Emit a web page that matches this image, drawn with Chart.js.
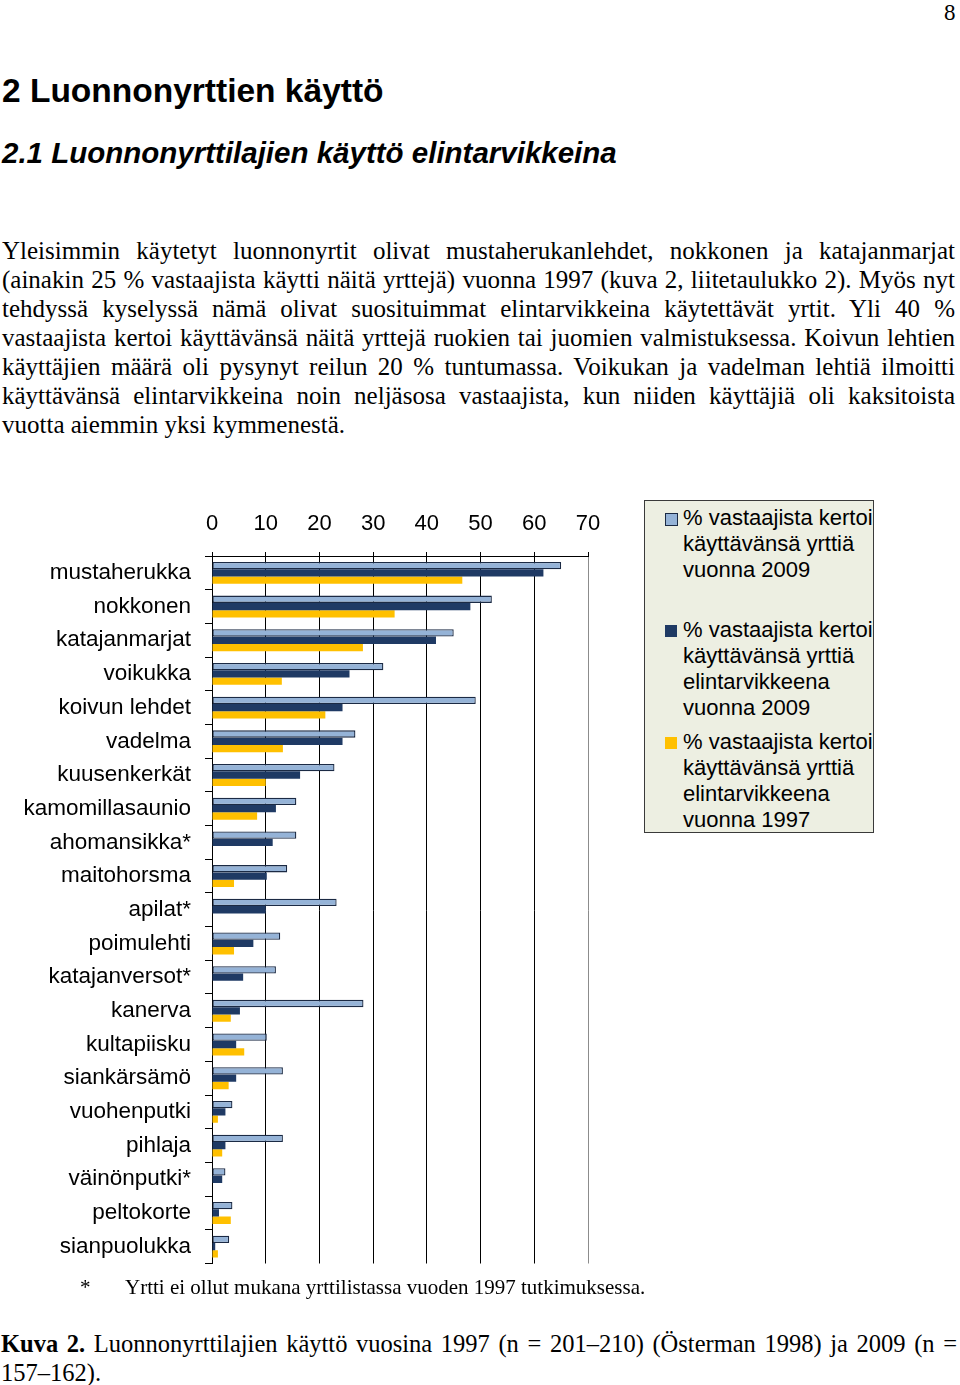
<!DOCTYPE html>
<html lang="fi">
<head>
<meta charset="utf-8">
<script src="https://cdn.jsdelivr.net/npm/chart.js@4/dist/chart.umd.min.js"></script>
<style>
  html, body { margin:0; padding:0; background:#fff; }
  body { width:960px; height:1385px; position:relative; overflow:hidden; color:#000; }
  .serif { font-family:"Liberation Serif","Times New Roman",serif; }
  .sans { font-family:"Liberation Sans",Arial,sans-serif; }
  .abs { position:absolute; }
  .pline { position:absolute; left:2px; width:953px; font-size:25px; line-height:29px; text-align:justify; text-align-last:justify; }
  .pline.last { text-align-last:left; }
  #legend { position:absolute; left:644px; top:500px; width:228px; height:331px; background:#EDEFE2; border:1.5px solid #3a3a3a; }
  .litem { position:absolute; left:38px; font-size:22px; line-height:26px; white-space:nowrap; font-family:"Liberation Sans",Arial,sans-serif; }
  .lmark { position:absolute; left:20px; width:12px; height:12px; }
</style>
</head>
<body>
<script>
// ---- data ----
const categories = ["mustaherukka","nokkonen","katajanmarjat","voikukka","koivun lehdet","vadelma","kuusenkerkät","kamomillasaunio","ahomansikka*","maitohorsma","apilat*","poimulehti","katajanversot*","kanerva","kultapiisku","siankärsämö","vuohenputki","pihlaja","väinönputki*","peltokorte","sianpuolukka"];
const used2009 = [65.0, 52.1, 45.0, 31.9, 49.1, 26.7, 22.8, 15.7, 15.7, 14.0, 23.2, 12.7, 11.9, 28.2, 10.2, 13.2, 3.8, 13.2, 2.5, 3.8, 3.2];
const food2009 = [61.7, 48.1, 41.7, 25.6, 24.3, 24.3, 16.4, 11.9, 11.3, 10.2, 10.0, 7.7, 5.8, 5.2, 4.5, 4.5, 2.5, 2.5, 1.9, 1.3, 0.6];
const food1997 = [46.6, 34.0, 28.1, 13.0, 21.1, 13.2, 10.0, 8.4, null, 4.1, null, 4.1, null, 3.5, 6.0, 3.1, 1.1, 1.9, null, 3.5, 1.1];
const seriesLabels = [
  ["% vastaajista kertoi","käyttävänsä yrttiä","vuonna 2009"],
  ["% vastaajista kertoi","käyttävänsä yrttiä","elintarvikkeena","vuonna 2009"],
  ["% vastaajista kertoi","käyttävänsä yrttiä","elintarvikkeena","vuonna 1997"]
];
const xTickLabels = ["0","10","20","30","40","50","60","70"];
</script>

<div class="abs serif" style="left:944px; top:0px; font-size:23px; line-height:26px;">8</div>
<div class="abs sans" style="left:2px; top:71px; font-size:33.5px; line-height:40px; font-weight:bold;">2 Luonnonyrttien käyttö</div>
<div class="abs sans" style="left:2px; top:134px; font-size:29.5px; line-height:38px; font-weight:bold; font-style:italic;">2.1 Luonnonyrttilajien käyttö elintarvikkeina</div>

<div class="serif">
<div class="pline" style="top:236px;">Yleisimmin käytetyt luonnonyrtit olivat mustaherukanlehdet, nokkonen ja katajanmarjat</div>
<div class="pline" style="top:265px;">(ainakin 25 % vastaajista käytti näitä yrttejä) vuonna 1997 (kuva 2, liitetaulukko 2). Myös nyt</div>
<div class="pline" style="top:294px;">tehdyssä kyselyssä nämä olivat suosituimmat elintarvikkeina käytettävät yrtit. Yli 40 %</div>
<div class="pline" style="top:323px;">vastaajista kertoi käyttävänsä näitä yrttejä ruokien tai juomien valmistuksessa. Koivun lehtien</div>
<div class="pline" style="top:352px;">käyttäjien määrä oli pysynyt reilun 20 % tuntumassa. Voikukan ja vadelman lehtiä ilmoitti</div>
<div class="pline" style="top:381px;">käyttävänsä elintarvikkeina noin neljäsosa vastaajista, kun niiden käyttäjiä oli kaksitoista</div>
<div class="pline last" style="top:410px;">vuotta aiemmin yksi kymmenestä.</div>
</div>

<canvas id="c" width="640" height="796" style="position:absolute; left:0; top:495px; width:640px; height:796px;"></canvas>

<div id="legend"></div>

<div class="abs serif" style="left:80px; top:1274px; font-size:21px; line-height:26px;">*</div>
<div class="abs serif" style="left:125px; top:1274px; font-size:21px; line-height:26px;">Yrtti ei ollut mukana yrttilistassa vuoden 1997 tutkimuksessa.</div>

<div class="serif">
<div class="pline" style="top:1329px; left:1px; width:956px; font-size:24.5px;"><b>Kuva 2.</b> Luonnonyrttilajien käyttö vuosina 1997 (n = 201–210) (Österman 1998) ja 2009 (n =</div>
<div class="pline last" style="top:1358px; left:1px; width:956px; font-size:24.5px;">157–162).</div>
</div>

<script>
const colors = ["#95B3D7", "#1F3A64", "#FFC000"];
const legendEl = document.getElementById('legend');
const itemTops = [4, 116, 228];
seriesLabels.forEach((lines, i) => {
  const it = document.createElement('div');
  it.className = 'litem';
  it.style.top = itemTops[i] + 'px';
  it.innerHTML = lines.join('<br>');
  legendEl.appendChild(it);
  const mk = document.createElement('div');
  mk.className = 'lmark';
  mk.style.top = (itemTops[i] + 8) + 'px';
  mk.style.background = colors[i];
  if (i === 0) { mk.style.border = '1px solid #1b2a44'; mk.style.width = '11px'; mk.style.height = '11px'; }
  legendEl.appendChild(mk);
});

const ctx = document.getElementById('c').getContext('2d');
new Chart(ctx, {
  type: 'bar',
  data: {
    labels: categories,
    datasets: [
      { label: seriesLabels[0].join(' '), data: used2009, backgroundColor: colors[0], borderColor: '#1b2a44', borderWidth: 1.3, borderSkipped: false },
      { label: seriesLabels[1].join(' '), data: food2009, backgroundColor: colors[1], borderWidth: 0 },
      { label: seriesLabels[2].join(' '), data: food1997, backgroundColor: colors[2], borderWidth: 0 }
    ]
  },
  options: {
    indexAxis: 'y',
    responsive: false,
    animation: false,
    maintainAspectRatio: false,
    layout: { padding: { top: 0, right: 52, bottom: 5, left: 0 } },
    plugins: { legend: { display: false }, tooltip: { enabled: false } },
    datasets: { bar: { categoryPercentage: 0.65, barPercentage: 1.0 } },
    scales: {
      x: {
        position: 'top', min: 0, max: 70,
        ticks: { stepSize: 10, color: '#000', font: { family: 'Liberation Sans', size: 22 }, padding: 15,
                 callback: (v, i) => xTickLabels[i] },
        grid: { color: c => (c.tick && c.tick.value === 70) ? '#8c8c8c' : '#000', lineWidth: 1, tickLength: 4, tickColor: '#000' },
        border: { color: '#000', width: 1 },
        afterFit: s => { s.height = 61; }
      },
      y: {
        ticks: { autoSkip: false, color: '#000', font: { family: 'Liberation Sans', size: 22.5 }, padding: 14 },
        grid: { drawOnChartArea: false, tickLength: 7, color: '#000', offset: true },
        border: { color: '#000', width: 1 },
        afterFit: s => { s.width = 212; }
      }
    }
  }
});
</script>
</body>
</html>
